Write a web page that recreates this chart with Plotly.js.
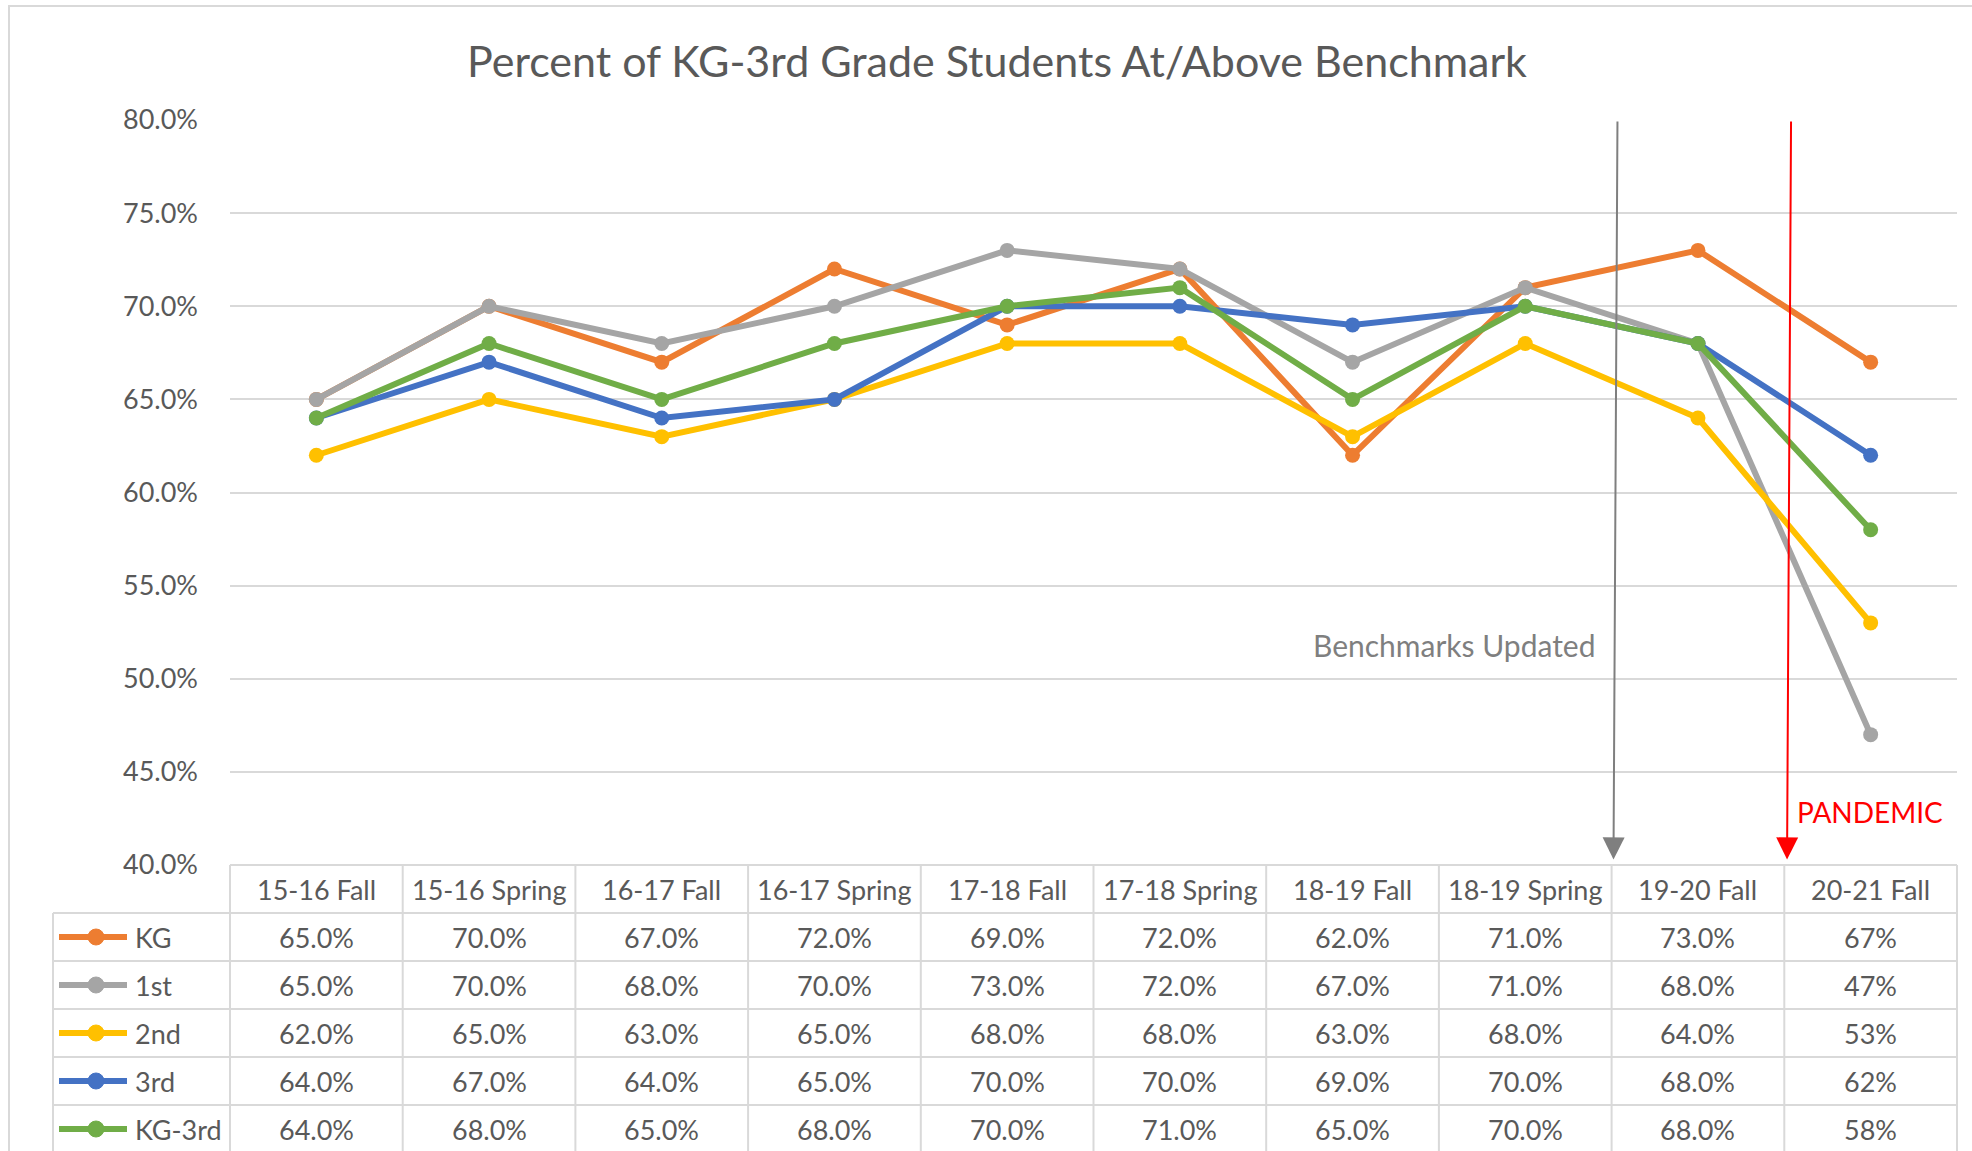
<!DOCTYPE html>
<html>
<head>
<meta charset="utf-8">
<script src="https://cdn.plot.ly/plotly-3.0.1.min.js"></script>
<style>html,body{margin:0;padding:0;background:#fff;}#chart{width:1972px;height:1151px;}</style>
</head>
<body>
<div id="chart"></div>
<script>
// ---- data ----
const categories = ["15-16 Fall","15-16 Spring","16-17 Fall","16-17 Spring","17-18 Fall","17-18 Spring","18-19 Fall","18-19 Spring","19-20 Fall","20-21 Fall"];
const seriesNames = ["KG","1st","2nd","3rd","KG-3rd"];
const kg    = [65,70,67,72,69,72,62,71,73,67];
const first = [65,70,68,70,73,72,67,71,68,47];
const second= [62,65,63,65,68,68,63,68,64,53];
const third = [64,67,64,65,70,70,69,70,68,62];
const kg3rd = [64,68,65,68,70,71,65,70,68,58];
const tableDecimals = [1,1,1,1,1,1,1,1,1,0];
const yTicks = [40,45,50,55,60,65,70,75,80];
const colors = ["#ED7D31","#A5A5A5","#FFC000","#4472C4","#70AD47"];

const seriesValues = [kg, first, second, third, kg3rd];

// ---- layout geometry (pixels) ----
const W = 1972, H = 1151;
const L = 230, R = 1957, T = 120, B = 865;
const ROW = 48;
const px2x = p => (p - L) / (R - L);
const py2y = p => (B - p) / (B - T);
const FONT = "Lato, 'Open Sans', sans-serif";
const TXT = "#595959";
const GRID = "#d9d9d9";
const FS = 27;

const traces = seriesNames.map((name, s) => ({
  type: "scatter", mode: "lines+markers", name: name,
  x: categories.map((c, i) => i), y: seriesValues[s],
  line: {color: colors[s], width: 6},
  marker: {color: colors[s], size: 15, symbol: "circle"},
  showlegend: false, cliponaxis: false
}));
const shapes = [];
const annotations = [];

// outer border
shapes.push({type:"rect", xref:"paper", yref:"paper", x0:px2x(9), x1:px2x(1995), y0:py2y(1170), y1:py2y(6),
  line:{color:GRID, width:2}, fillcolor:"rgba(0,0,0,0)", layer:"below"});

// table horizontal lines
const nRows = seriesNames.length;
shapes.push({type:"line", xref:"paper", yref:"paper", x0:px2x(L), x1:px2x(R), y0:py2y(B), y1:py2y(B), line:{color:GRID, width:2}});
for (let r = 1; r <= nRows + 1; r++) {
  const yy = py2y(B + ROW * r);
  shapes.push({type:"line", xref:"paper", yref:"paper", x0:px2x(53), x1:px2x(R), y0:yy, y1:yy, line:{color:GRID, width:2}});
}
// table vertical lines
const colW = (R - L) / categories.length;
for (let i = 0; i <= categories.length; i++) {
  const xx = px2x(L + colW * i);
  shapes.push({type:"line", xref:"paper", yref:"paper", x0:xx, x1:xx, y0:py2y(B), y1:py2y(B + ROW*(nRows+1) + 10), line:{color:GRID, width:2}});
}
shapes.push({type:"line", xref:"paper", yref:"paper", x0:px2x(53), x1:px2x(53), y0:py2y(B+ROW), y1:py2y(B + ROW*(nRows+1) + 10), line:{color:GRID, width:2}});

// header labels
categories.forEach((c, i) => {
  annotations.push({xref:"x", yref:"paper", x:i, y:py2y(B + ROW/2), text:c, showarrow:false,
    font:{family:FONT, size:FS, color:TXT}, xanchor:"center", yanchor:"middle"});
});
// rows
seriesNames.forEach((name, s) => {
  const cy = B + ROW * (s + 1) + ROW / 2;
  seriesValues[s].forEach((v, i) => {
    annotations.push({xref:"x", yref:"paper", x:i, y:py2y(cy), text:v.toFixed(tableDecimals[i]) + "%", showarrow:false,
      font:{family:FONT, size:FS, color:TXT}, xanchor:"center", yanchor:"middle"});
  });
  // legend key
  shapes.push({type:"line", xref:"paper", yref:"paper", x0:px2x(59), x1:px2x(127), y0:py2y(cy), y1:py2y(cy), line:{color:colors[s], width:6}});
  shapes.push({type:"circle", xref:"paper", yref:"paper", x0:px2x(88), x1:px2x(104), y0:py2y(cy+8), y1:py2y(cy-8), line:{color:colors[s], width:1}, fillcolor:colors[s]});
  annotations.push({xref:"paper", yref:"paper", x:px2x(133), y:py2y(cy), text:name, showarrow:false,
    font:{family:FONT, size:FS, color:TXT}, xanchor:"left", yanchor:"middle"});
});

// event arrows
annotations.push({xref:"x", yref:"y", axref:"x", ayref:"y", x:7.511, y:40.3, ax:7.534, ay:80, text:"", showarrow:true,
  arrowhead:2, arrowsize:2.2, arrowwidth:2, arrowcolor:"#7f7f7f"});
annotations.push({xref:"x", yref:"y", axref:"x", ayref:"y", x:8.516, y:40.3, ax:8.539, ay:80, text:"", showarrow:true,
  arrowhead:2, arrowsize:2.2, arrowwidth:2, arrowcolor:"#ff0000"});
annotations.push({xref:"paper", yref:"paper", x:px2x(1598), y:py2y(645), text:"Benchmarks Updated", showarrow:false,
  font:{family:FONT, size:30, color:"#7f7f7f"}, xanchor:"right", yanchor:"middle"});
annotations.push({xref:"paper", yref:"paper", x:px2x(1795), y:py2y(812), text:"PANDEMIC", showarrow:false,
  font:{family:FONT, size:28, color:"#ff0000"}, xanchor:"left", yanchor:"middle"});

const layout = {
  width: W, height: H,
  margin: {l: L, r: W - R, t: T, b: H - B, pad: 0},
  paper_bgcolor: "#fff", plot_bgcolor: "#fff",
  title: {text: "Percent of KG-3rd Grade Students At/Above Benchmark", xref:"container", yref:"container",
    x: 997/W, y: 1 - 62/H, xanchor:"center", yanchor:"middle", font:{family:FONT, size:43, color:TXT}},
  xaxis: {range:[-0.5, categories.length - 0.5], showgrid:false, zeroline:false, showline:false, showticklabels:false, ticks:"", fixedrange:true},
  yaxis: {range:[40, 80], tickvals: yTicks, ticktext: yTicks.map(v => v.toFixed(1) + "%"), showgrid:true, gridcolor:GRID, gridwidth:2,
    zeroline:false, showline:false, ticks:"", ticklabelstandoff: 31, tickfont:{family:FONT, size:FS, color:TXT}},
  shapes: shapes, annotations: annotations, showlegend:false
};
Plotly.newPlot("chart", traces, layout, {staticPlot:true});
</script>
</body>
</html>
